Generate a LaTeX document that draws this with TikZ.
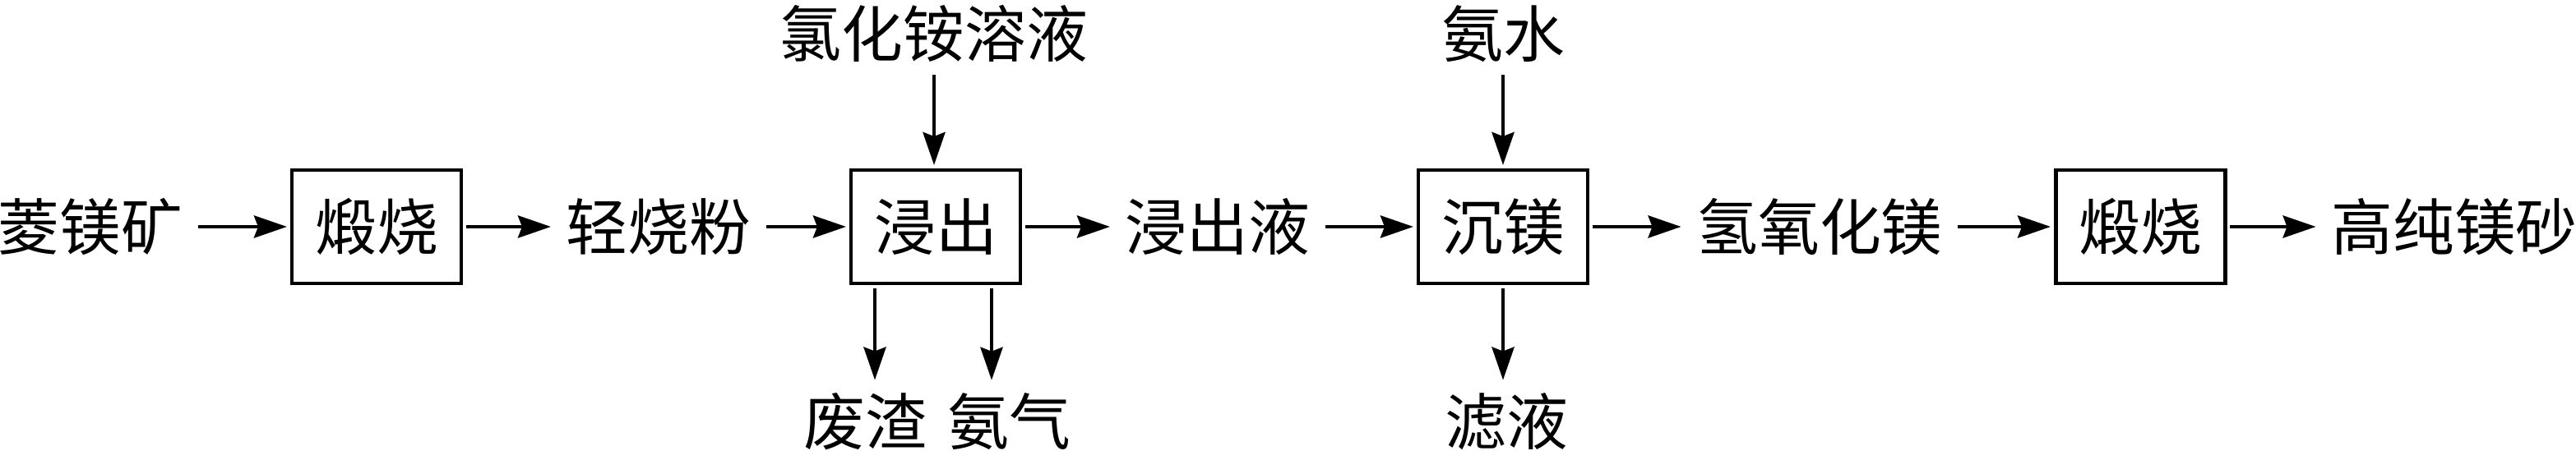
\documentclass[tikz,border=0pt]{standalone}
\usepackage{fontspec}
\setmainfont{Noto Sans CJK SC}
\usepackage{tikz}
\usetikzlibrary{arrows.meta}

\begin{document}
\begin{tikzpicture}
  [font=\fontsize{21.3pt}{25pt}\selectfont,
   box/.style={draw,line width=1.4pt,minimum width=2.06cm,minimum height=1.38cm,inner sep=0pt,outer sep=0.06cm},
   txt/.style={inner xsep=0.18cm,inner ysep=0.15cm},
   flow/.style={line width=1.3pt,-{Stealth[length=4mm,width=2.7mm,inset=0.5mm]}}]
  \useasboundingbox (0,0) rectangle (31.33,5.48);

  \node[txt] (ore) at (1.10,2.72) {菱镁矿};
  \node[box] (calc1) at (4.58,2.72) {煅烧};
  \node[txt] (powder) at (8.01,2.72) {轻烧粉};
  \node[box] (leach) at (11.38,2.72) {浸出};
  \node[txt] (liquor) at (14.81,2.72) {浸出液};
  \node[box] (precip) at (18.28,2.72) {沉镁};
  \node[txt] (hydrox) at (22.13,2.72) {氢氧化镁};
  \node[box] (calc2) at (26.03,2.72) {煅烧};
  \node[txt] (product) at (29.85,2.72) {高纯镁砂};

  \node[txt] (nh4cl) at (11.36,5.07) {氯化铵溶液};
  \node[txt] (ammonia) at (18.28,5.07) {氨水};
  \node[txt] (slag) at (10.52,0.35) {废渣};
  \node[txt] (gas) at (12.27,0.35) {氨气};
  \node[txt] (filtrate) at (18.32,0.35) {滤液};

  \foreach \from/\to in {ore/calc1,calc1/powder,powder/leach,leach/liquor,
                         liquor/precip,precip/hydrox,hydrox/calc2,calc2/product}
    \draw[flow] (\from) -- (\to);

  \draw[flow] (nh4cl) -- (nh4cl |- leach.north);
  \draw[flow] (ammonia) -- (ammonia |- precip.north);
  \draw[flow] ([xshift=-0.74cm]leach.south) -- ([xshift=-0.74cm]leach.south |- slag.north);
  \draw[flow] ([xshift=0.68cm]leach.south) -- ([xshift=0.68cm]leach.south |- gas.north);
  \draw[flow] (precip.south) -- (precip.south |- filtrate.north);

\end{tikzpicture}
\end{document}
